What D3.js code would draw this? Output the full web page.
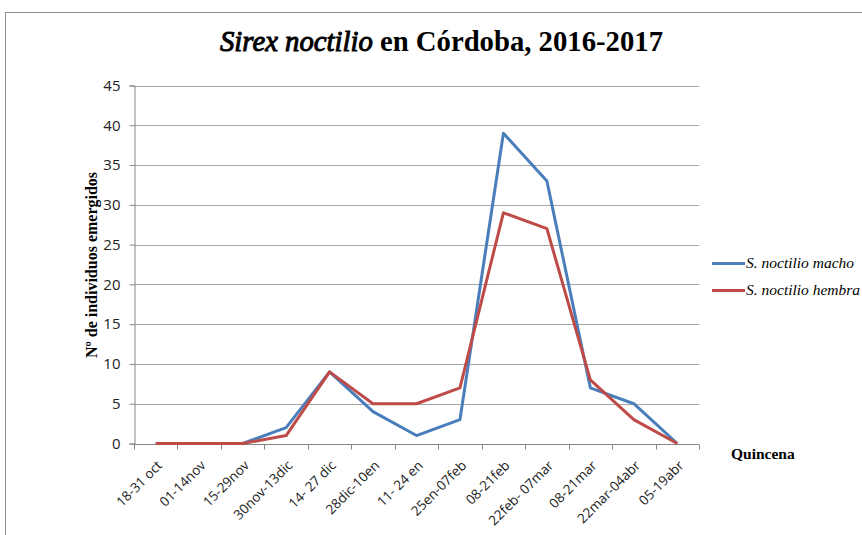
<!DOCTYPE html>
<html>
<head>
<meta charset="utf-8">
<script src="https://cdn.jsdelivr.net/npm/d3@7"></script>
<style>
  html, body { margin: 0; padding: 0; background: #fff; }
  svg { display: block; }
</style>
</head>
<body>
<svg id="chart" width="862" height="535"></svg>
<script>
// Fortnight periods (quincenas)
const categories = ["18-31 oct", "01-14nov", "15-29nov", "30nov-13dic", "14- 27 dic",
  "28dic-10en", "11- 24 en", "25en-07feb", "08-21feb", "22feb- 07mar",
  "08-21mar", "22mar-04abr", "05-19abr"];
// Emerged individuals per fortnight
const machoValues = [0, 0, 0, 2, 9, 4, 1, 3, 39, 33, 7, 5, 0];
const hembraValues = [0, 0, 0, 1, 9, 5, 5, 7, 29, 27, 8, 3, 0];
const yTicks = [0, 5, 10, 15, 20, 25, 30, 35, 40, 45];
const seriesNames = ["S. noctilio macho", "S. noctilio hembra"];
const seriesColors = ["#4a7ebb", "#be4b48"];

const svg = d3.select("#chart");
const serif = "'Liberation Serif', 'Times New Roman', serif";
const sans = "'Open Sans', 'Liberation Sans', sans-serif";

// outer frame
svg.append("rect")
  .attr("x", 5.5).attr("y", 12.5)
  .attr("width", 880).attr("height", 560)
  .attr("fill", "none").attr("stroke", "#8c8c8c").attr("stroke-width", 1);

const plot = { left: 134, right: 699, top: 85.5, bottom: 443.5 };

const x = d3.scaleBand().domain(categories).range([plot.left, plot.right]);
const y = d3.scaleLinear().domain([0, 45]).range([plot.bottom, plot.top]);

// horizontal gridlines
svg.append("g").selectAll("line").data(yTicks.filter(d => d > 0)).join("line")
  .attr("x1", plot.left).attr("x2", plot.right)
  .attr("y1", d => Math.round(y(d)) + 0.5).attr("y2", d => Math.round(y(d)) + 0.5)
  .attr("stroke", "#a6a6a6").attr("stroke-width", 1);

// y axis
const yAxis = svg.append("g")
  .attr("transform", `translate(${plot.left + 0.5},0)`)
  .call(d3.axisLeft(y).tickValues(yTicks).tickSize(5).tickPadding(9));
yAxis.select(".domain").attr("stroke", "#868686");
yAxis.selectAll(".tick line").attr("stroke", "#868686");
yAxis.selectAll(".tick text")
  .attr("font-family", sans)
  .attr("font-size", 15).attr("fill", "#222");

// x axis with ticks on band boundaries
const xAxisG = svg.append("g")
  .attr("transform", `translate(0,${Math.round(plot.bottom) + 0.5})`);
xAxisG.append("line")
  .attr("x1", plot.left).attr("x2", plot.right)
  .attr("stroke", "#868686");
const boundaries = categories.map(c => x(c)).concat([x.range()[1]]);
xAxisG.selectAll("line.tk").data(boundaries).join("line").attr("class", "tk")
  .attr("x1", d => Math.round(d) + 0.5).attr("x2", d => Math.round(d) + 0.5)
  .attr("y1", 0).attr("y2", 5)
  .attr("stroke", "#868686");
xAxisG.selectAll("text").data(categories).join("text")
  .attr("transform", d => `translate(${x(d) + x.bandwidth() / 2 + 0.5},${15}) rotate(-45)`)
  .attr("text-anchor", "end")
  .attr("dy", "0.71em")
  .attr("font-family", sans)
  .attr("font-size", 13.5).attr("fill", "#222")
  .text(d => d);

// series lines
const line = d3.line()
  .x((d, i) => x(categories[i]) + x.bandwidth() / 2)
  .y(d => y(d));
[machoValues, hembraValues].forEach((vals, k) => {
  svg.append("path")
    .datum(vals)
    .attr("d", line)
    .attr("fill", "none")
    .attr("stroke", seriesColors[k])
    .attr("stroke-width", 3)
    .attr("stroke-linejoin", "round");
});

// title: italic species name (thickened with a thin stroke) + bold remainder
const title = svg.append("text")
  .attr("x", 441.5).attr("y", 51)
  .attr("text-anchor", "middle")
  .attr("font-family", serif)
  .attr("font-size", 30).attr("fill", "#000")
  .attr("textLength", 443).attr("lengthAdjust", "spacingAndGlyphs");
title.append("tspan")
  .attr("font-style", "italic")
  .attr("stroke", "#000").attr("stroke-width", 1)
  .text("Sirex noctilio");
title.append("tspan").attr("font-weight", "bold").text(" en Córdoba, 2016-2017");

// y axis title
svg.append("text")
  .attr("transform", `translate(97,265) rotate(-90)`)
  .attr("text-anchor", "middle")
  .attr("font-family", serif)
  .attr("font-weight", "bold").attr("font-size", 16)
  .text("Nº de individuos emergidos");

// x axis title
svg.append("text")
  .attr("x", 731).attr("y", 459)
  .attr("font-family", serif)
  .attr("font-weight", "bold").attr("font-size", 15.5)
  .text("Quincena");

// legend
const legend = svg.append("g");
seriesNames.forEach((name, k) => {
  const ly = 263.5 + k * 27;
  legend.append("line")
    .attr("x1", 712).attr("x2", 745).attr("y1", ly).attr("y2", ly)
    .attr("stroke", seriesColors[k]).attr("stroke-width", 3);
  legend.append("text")
    .attr("x", 746).attr("y", ly + 4.5)
    .attr("font-family", serif)
    .attr("font-style", "italic").attr("font-size", 15.5)
    .text(name);
});
</script>
</body>
</html>
